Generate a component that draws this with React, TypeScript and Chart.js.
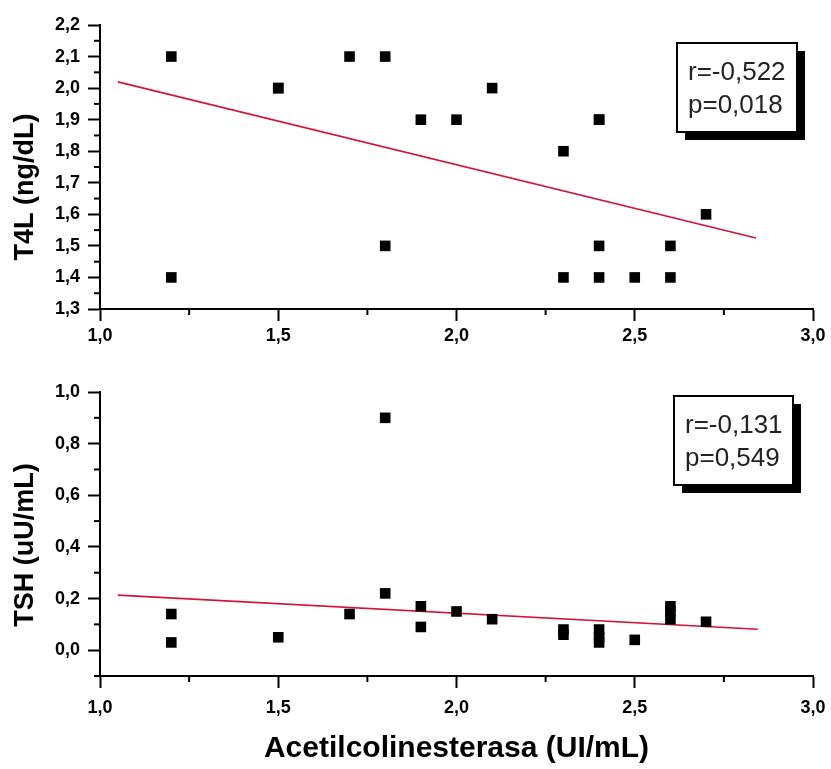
import React, { useEffect, useRef } from 'react';
import { Chart, registerables } from 'chart.js';

Chart.register(...registerables);

// ---------- data ----------
const t4lX = [1.2, 1.2, 1.5, 1.5, 1.7, 1.8, 1.8, 1.9, 2.0, 2.1, 2.3, 2.3, 2.4, 2.4, 2.4, 2.4, 2.5, 2.6, 2.6, 2.7];
const t4lY = [2.1, 1.4, 2.0, 2.0, 2.1, 2.1, 1.5, 1.9, 1.9, 2.0, 1.8, 1.4, 1.9, 1.9, 1.5, 1.4, 1.4, 1.5, 1.4, 1.6];
const t4lFitX = [1.05, 2.84];
const t4lFitY = [2.02, 1.525];

const tshX = [1.2, 1.2, 1.5, 1.7, 1.8, 1.8, 1.9, 1.9, 2.0, 2.1, 2.3, 2.3, 2.4, 2.4, 2.4, 2.5, 2.6, 2.6, 2.6, 2.7];
const tshY = [0.14, 0.03, 0.05, 0.14, 0.9, 0.22, 0.17, 0.09, 0.15, 0.12, 0.08, 0.06, 0.08, 0.05, 0.03, 0.04, 0.17, 0.15, 0.12, 0.11];
const tshFitX = [1.05, 2.845];
const tshFitY = [0.213, 0.081];

const xMinorTicks = [1.25, 1.75, 2.25, 2.75];
const t4lMinorTicks = [1.35, 1.45, 1.55, 1.65, 1.75, 1.85, 1.95, 2.05, 2.15];
const tshMinorTicks = [-0.1, 0.1, 0.3, 0.5, 0.7, 0.9];

const t4lTitle = 'T4L (ng/dL)';
const tshTitle = 'TSH (uU/mL)';
const xTitle = 'Acetilcolinesterasa (UI/mL)';
const t4lStats = ['r=-0,522', 'p=0,018'];
const tshStats = ['r=-0,131', 'p=0,549'];

const FONT = "'Liberation Sans', Arial, sans-serif";
const RED = '#d2143c';

const fmt = (v: any) => Number(v).toFixed(1).replace('.', ',');

// ---------- plugins ----------
const minorTicksPlugin = {
  id: 'minorTicks',
  afterDraw(chart: any, _args: any, opts: any) {
    const { ctx, chartArea, scales } = chart;
    ctx.save();
    ctx.strokeStyle = '#000';
    ctx.lineWidth = 2;
    (opts.x || []).forEach((v: number) => {
      const px = scales.x.getPixelForValue(v);
      ctx.beginPath();
      ctx.moveTo(px, chartArea.bottom);
      ctx.lineTo(px, chartArea.bottom + 6);
      ctx.stroke();
    });
    (opts.y || []).forEach((v: number) => {
      const py = scales.y.getPixelForValue(v);
      ctx.beginPath();
      ctx.moveTo(chartArea.left, py);
      ctx.lineTo(chartArea.left - 6, py);
      ctx.stroke();
    });
    ctx.restore();
  },
};

const yTitlePlugin = {
  id: 'yTitle',
  afterDraw(chart: any, _args: any, opts: any) {
    const { ctx } = chart;
    ctx.save();
    ctx.translate(opts.x, opts.y);
    ctx.rotate(-Math.PI / 2);
    ctx.font = `bold 27px ${FONT}`;
    ctx.fillStyle = '#000';
    ctx.textAlign = 'center';
    ctx.textBaseline = 'middle';
    ctx.fillText(opts.text, 0, 0);
    ctx.restore();
  },
};

const statBoxPlugin = {
  id: 'statBox',
  afterDraw(chart: any, _args: any, opts: any) {
    const { ctx } = chart;
    const { left, top, width, height, lines } = opts;
    ctx.save();
    ctx.fillStyle = '#000';
    ctx.fillRect(left + 8, top + 8, width, height);
    ctx.fillStyle = '#fff';
    ctx.fillRect(left, top, width, height);
    ctx.strokeStyle = '#000';
    ctx.lineWidth = 2;
    ctx.strokeRect(left, top, width, height);
    ctx.fillStyle = '#222';
    ctx.font = `26px ${FONT}`;
    ctx.textAlign = 'left';
    ctx.textBaseline = 'alphabetic';
    lines.forEach((t: string, i: number) => {
      ctx.fillText(t, left + 11, top + 37 + i * 33);
    });
    ctx.restore();
  },
};

function makeConfig(p: any) {
  const pts = p.xs.map((x: number, i: number) => ({ x, y: p.ys[i] }));
  const fit = p.fx.map((x: number, i: number) => ({ x, y: p.fy[i] }));
  const tickFont = { family: FONT, size: 18, weight: 'bold' as const };
  return {
    type: 'scatter' as const,
    data: {
      datasets: [
        {
          type: 'scatter' as const,
          data: pts,
          pointStyle: 'rect',
          pointRadius: 7.5,
          pointBorderWidth: 0,
          backgroundColor: '#000',
          borderColor: '#000',
        },
        {
          type: 'line' as const,
          data: fit,
          showLine: true,
          pointRadius: 0,
          borderColor: RED,
          borderWidth: 1.7,
          fill: false,
        },
      ],
    },
    options: {
      responsive: false,
      animation: false,
      events: [],
      layout: { padding: { top: p.padTop, right: 18, left: 0, bottom: 0 } },
      plugins: {
        legend: { display: false },
        tooltip: { enabled: false },
        minorTicks: { x: xMinorTicks, y: p.yMinor },
        yTitle: { text: p.yTitle, x: 26, y: p.yTitleY },
        statBox: p.stat,
      },
      scales: {
        x: {
          type: 'linear',
          min: 1,
          max: 3,
          afterFit: (s: any) => {
            s.height = p.xHeight;
            s.paddingLeft = 0;
            s.paddingRight = 0;
          },
          border: { display: true, color: '#000', width: 2 },
          grid: { drawOnChartArea: false, drawTicks: true, tickLength: 12, tickWidth: 2, tickColor: '#000' },
          ticks: { stepSize: 0.5, padding: p.xPad, color: '#000', font: tickFont, callback: fmt, maxRotation: 0, autoSkip: false },
          title: p.xTitle
            ? { display: true, text: p.xTitle, color: '#000', font: { family: FONT, size: 30, weight: 'bold' }, padding: { top: 0, bottom: 2 } }
            : { display: false },
        },
        y: {
          type: 'linear',
          min: p.yMin,
          max: p.yMax,
          afterFit: (s: any) => {
            s.width = 100;
            s.paddingTop = 0;
            s.paddingBottom = 0;
          },
          border: { display: true, color: '#000', width: 2 },
          grid: { drawOnChartArea: false, drawTicks: true, tickLength: 12, tickWidth: 2, tickColor: '#000' },
          ticks: { stepSize: p.yStep, includeBounds: false, padding: 8, color: '#000', font: tickFont, callback: fmt, autoSkip: false },
        },
      },
    },
    plugins: [minorTicksPlugin, yTitlePlugin, statBoxPlugin],
  };
}

function ChartCanvas({ config, width, height, top }: any) {
  const ref = useRef<HTMLCanvasElement>(null);
  useEffect(() => {
    if (!ref.current) return;
    const chart = new Chart(ref.current, config);
    return () => chart.destroy();
  }, []);
  return (
    <canvas
      ref={ref}
      width={width}
      height={height}
      style={{ position: 'absolute', left: 0, top, width, height, display: 'block' }}
    />
  );
}

export default function App() {
  const topCfg = makeConfig({
    xs: t4lX, ys: t4lY, fx: t4lFitX, fy: t4lFitY,
    yMin: 1.3, yMax: 2.2, yStep: 0.1, yMinor: t4lMinorTicks,
    padTop: 25, xHeight: 51, xPad: 4,
    yTitle: t4lTitle, yTitleY: 187,
    stat: { left: 677, top: 43, width: 120, height: 89, lines: t4lStats },
  });
  const bottomCfg = makeConfig({
    xs: tshX, ys: tshY, fx: tshFitX, fy: tshFitY,
    yMin: -0.1, yMax: 1.0, yStep: 0.2, yMinor: tshMinorTicks,
    padTop: 32, xHeight: 93, xPad: 9, xTitle,
    yTitle: tshTitle, yTitleY: 185,
    stat: { left: 674, top: 36, width: 119, height: 89, lines: tshStats },
  });
  return (
    <div style={{ position: 'absolute', left: 0, top: 0, width: 831, height: 769, background: '#fff', overflow: 'hidden' }}>
      <ChartCanvas config={topCfg} width={831} height={360} top={0} />
      <ChartCanvas config={bottomCfg} width={831} height={409} top={360} />
    </div>
  );
}
